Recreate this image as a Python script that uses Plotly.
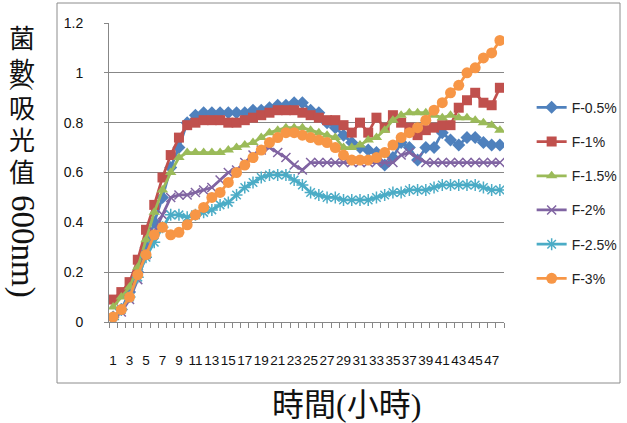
import plotly.graph_objects as go

# Incubation time (hours) and optical density readings at 600 nm
hours = list(range(1, 49))
tick_hours = list(range(1, 48, 2))

f05 = [0.02, 0.05, 0.12, 0.20, 0.30, 0.40, 0.50, 0.62, 0.70, 0.80, 0.83, 0.84,
       0.84, 0.84, 0.84, 0.84, 0.84, 0.85, 0.85, 0.86, 0.87, 0.87, 0.88, 0.88,
       0.85, 0.84, 0.80, 0.78, 0.75, 0.72, 0.70, 0.69, 0.68, 0.63, 0.66, 0.72,
       0.70, 0.65, 0.70, 0.70, 0.76, 0.73, 0.71, 0.74, 0.74, 0.72, 0.71, 0.71]
f1 = [0.09, 0.12, 0.16, 0.25, 0.37, 0.47, 0.58, 0.67, 0.74, 0.79, 0.80, 0.81,
      0.81, 0.81, 0.80, 0.80, 0.81, 0.82, 0.83, 0.84, 0.85, 0.85, 0.85, 0.84,
      0.83, 0.82, 0.81, 0.81, 0.79, 0.76, 0.80, 0.76, 0.82, 0.78, 0.83, 0.80,
      0.78, 0.75, 0.77, 0.78, 0.79, 0.79, 0.86, 0.89, 0.92, 0.88, 0.87, 0.94]
f15 = [0.06, 0.10, 0.14, 0.22, 0.33, 0.44, 0.53, 0.60, 0.66, 0.68, 0.68, 0.68,
       0.68, 0.68, 0.69, 0.70, 0.71, 0.72, 0.74, 0.76, 0.77, 0.78, 0.78, 0.78,
       0.77, 0.76, 0.75, 0.74, 0.70, 0.70, 0.71, 0.73, 0.74, 0.77, 0.81, 0.83,
       0.84, 0.84, 0.84, 0.83, 0.82, 0.83, 0.82, 0.82, 0.81, 0.80, 0.79, 0.77]
f2 = [0.01, 0.04, 0.09, 0.17, 0.27, 0.36, 0.43, 0.50, 0.51, 0.51, 0.52, 0.53,
      0.54, 0.57, 0.60, 0.61, 0.64, 0.67, 0.69, 0.70, 0.68, 0.66, 0.63, 0.61,
      0.64, 0.64, 0.64, 0.64, 0.64, 0.64, 0.64, 0.64, 0.64, 0.64, 0.64, 0.67,
      0.68, 0.66, 0.64, 0.64, 0.64, 0.64, 0.64, 0.64, 0.64, 0.64, 0.64, 0.64]
f25 = [0.01, 0.05, 0.10, 0.18, 0.26, 0.32, 0.38, 0.43, 0.43, 0.42, 0.43, 0.44,
       0.45, 0.47, 0.48, 0.51, 0.54, 0.56, 0.58, 0.59, 0.59, 0.59, 0.57, 0.55,
       0.52, 0.51, 0.50, 0.50, 0.49, 0.49, 0.49, 0.49, 0.50, 0.51, 0.52, 0.52,
       0.53, 0.53, 0.53, 0.54, 0.55, 0.55, 0.55, 0.55, 0.55, 0.54, 0.53, 0.53]
f3 = [0.02, 0.05, 0.10, 0.19, 0.27, 0.35, 0.38, 0.35, 0.36, 0.39, 0.43, 0.46,
      0.50, 0.52, 0.56, 0.60, 0.63, 0.66, 0.69, 0.72, 0.74, 0.76, 0.76, 0.75,
      0.74, 0.73, 0.72, 0.70, 0.67, 0.65, 0.65, 0.65, 0.66, 0.68, 0.71, 0.74,
      0.76, 0.78, 0.81, 0.85, 0.88, 0.92, 0.95, 1.00, 1.02, 1.06, 1.08, 1.13]

series_names = ["F-0.5%", "F-1%", "F-1.5%", "F-2%", "F-2.5%", "F-3%"]
series_values = [f05, f1, f15, f2, f25, f3]
colors = ["#4F81BD", "#C0504D", "#9BBB59", "#8064A2", "#4BACC6", "#F79646"]
symbols = ["diamond", "square", "triangle-up", "x-thin", "asterisk", "circle"]
sizes = [10, 10, 10, 9, 10, 11]

fig = go.Figure()
for i, (name, vals) in enumerate(zip(series_names, series_values)):
    open_marker = symbols[i] in ("x-thin", "asterisk")
    fig.add_trace(go.Scatter(
        x=hours, y=vals, name=name, mode="lines+markers",
        legendgroup=name,
        line=dict(color=colors[i], width=2.75),
        marker=dict(symbol=symbols[i], size=sizes[i], color=colors[i],
                    line=dict(color=colors[i], width=1.5 if open_marker else 0)),
    ))

grid = "#878787"
font_main = "Liberation Sans, Arial, sans-serif"
title_font = "Liberation Serif, Noto Sans CJK TC, serif"

fig.update_layout(
    width=627, height=423,
    margin=dict(l=109, r=123, t=23, b=101, autoexpand=False),
    paper_bgcolor="white", plot_bgcolor="white",
    showlegend=True,
    legend=dict(x=1.07, y=0.77, xanchor="left", yanchor="top",
                font=dict(family=font_main, size=14, color="#222222"),
                tracegroupgap=13, itemwidth=30, bgcolor="rgba(0,0,0,0)"),
    xaxis=dict(range=[0.5, 48.5], tickmode="array", tickvals=tick_hours,
               ticktext=[str(h) for h in tick_hours], ticks="", tickangle=0,
               showgrid=False, zeroline=False,
               showline=True, linecolor=grid, linewidth=1,
               tickfont=dict(family=font_main, size=13.5, color="#111111"),
               ticklabelstandoff=26,
               minor=dict(tickvals=[h - 0.5 for h in hours] + [hours[-1] + 0.5],
                          ticks="outside", ticklen=5, tickcolor=grid, showgrid=False)),
    yaxis=dict(range=[0, 1.2], dtick=0.2, tick0=0,
               showgrid=True, gridcolor=grid, gridwidth=1,
               zeroline=False, showline=True, linecolor=grid, linewidth=1,
               ticks="outside", ticklen=4, tickcolor=grid,
               tickfont=dict(family=font_main, size=14, color="#111111"),
               ticklabelstandoff=18),
)

# chart border
fig.add_shape(type="rect", xref="paper", yref="paper",
              x0=(57 - 109) / 395, x1=(620 - 109) / 395,
              y0=(322 - 383) / 299, y1=(322 - 3) / 299,
              line=dict(color="#8c8c8c", width=1), fillcolor="rgba(0,0,0,0)",
              layer="below")

# x axis title
fig.add_annotation(text="時間(小時)", xref="paper", yref="paper",
                   x=(346 - 109) / 395, y=(322 - 405) / 299,
                   showarrow=False, xanchor="center", yanchor="middle",
                   font=dict(family=title_font, size=32, color="#111111"))

# vertical y axis title: upright CJK characters, rotated bracket and Latin part
ytitle_x = (22 - 109) / 395
for ch, ypix in [("菌", 37), ("數", 69), ("吸", 106), ("光", 138), ("值", 170)]:
    fig.add_annotation(text=ch, xref="paper", yref="paper",
                       x=ytitle_x, y=(322 - ypix) / 299,
                       showarrow=False, xanchor="center", yanchor="middle",
                       font=dict(family="Noto Sans CJK TC", size=26, color="#111111"))
fig.add_annotation(text="(", xref="paper", yref="paper",
                   x=ytitle_x + 0.005, y=(322 - 87) / 299, textangle=90,
                   showarrow=False, xanchor="center", yanchor="middle",
                   font=dict(family="Liberation Serif, serif", size=26, color="#111111"))
fig.add_annotation(text="600nm)", xref="paper", yref="paper",
                   x=ytitle_x, y=(322 - 246) / 299, textangle=90,
                   showarrow=False, xanchor="center", yanchor="middle",
                   font=dict(family="Liberation Serif, serif", size=33, color="#111111"))

fig.write_html("out.html")
